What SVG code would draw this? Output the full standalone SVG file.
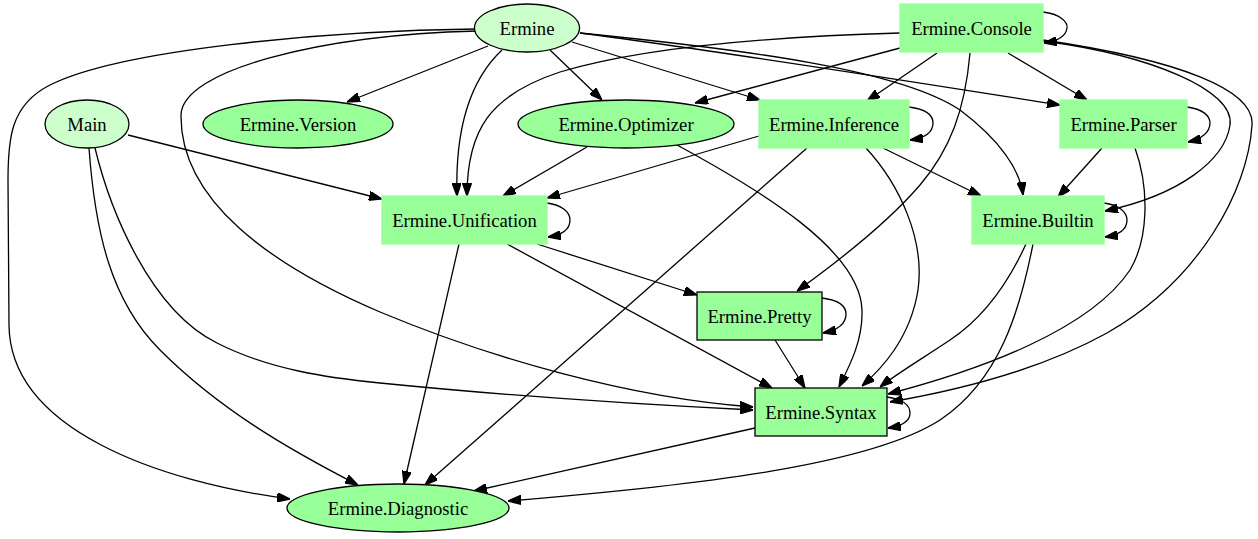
<svg xmlns="http://www.w3.org/2000/svg" width="1258" height="539" viewBox="0 0 1258 539">
<style>
.e{fill:none;stroke:#000;stroke-width:1.3;marker-end:url(#ah)}
.lt{fill:#ccffcc;stroke:#000;stroke-width:1.3}
.dk{fill:#99ff99;stroke:#000;stroke-width:1.3}
.nb{fill:#99ff99;stroke:#99ff99;stroke-width:1.3}
text{font-family:"Liberation Serif","Times New Roman",serif;font-size:18.67px;text-anchor:middle;fill:#000}
</style>
<defs>
<marker id="ah" viewBox="0 0 10 7" refX="10" refY="3.5" markerWidth="13" markerHeight="9.3" markerUnits="userSpaceOnUse" orient="auto">
<path d="M0,0 L10,3.5 L0,7 z" fill="#000" stroke="#000"/>
</marker>
</defs>
<rect width="1258" height="539" fill="#fff"/>
<g id="edges">
<path class="e" d="M476,29 C 320,31 120,50 50,85 C 10,105 8,140 8,180 L 9,325 C 10,430 160,482 290,499"/>
<path class="e" d="M477,31 C 320,35 182,70 181,115 C 180,200 270,265 380,312 C 490,358 630,398 753,407"/>
<path class="e" d="M488,46 L347,102"/>
<path class="e" d="M502,50 C 470,80 455,130 457,196"/>
<path class="e" d="M550,50 L602,100"/>
<path class="e" d="M572,42 L760,100"/>
<path class="e" d="M580,33 C 700,48 900,80 1060,105"/>
<path class="e" d="M580,33 C 750,50 900,70 960,110 C 1000,140 1020,170 1023,195"/>
<path class="e" d="M128,135 L382,199"/>
<path class="e" d="M95,148 C 110,210 150,310 217,343 C 270,370 330,378 380,383 C 500,395 650,405 753,410"/>
<path class="e" d="M89,148 C 95,230 110,300 160,350 C 220,410 290,450 358,485"/>
<path class="e" d="M1043,12 C 1060,14 1068,22 1067,28 C 1066,36 1058,41 1044,43"/>
<path class="e" d="M900,48 L695,103"/>
<path class="e" d="M900,33 C 760,37 640,48 560,72 C 490,95 467,130 467,196"/>
<path class="e" d="M937,53 L867,101"/>
<path class="e" d="M1008,53 L1087,100"/>
<path class="e" d="M970,53 C 965,110 950,150 920,185 C 890,220 840,260 797,291"/>
<path class="e" d="M1043,41 C 1150,55 1235,90 1230,125 C 1225,160 1180,195 1105,211"/>
<path class="e" d="M1043,40 C 1180,60 1255,90 1252,125 C 1248,190 1200,280 1107,333 C 1040,370 960,390 890,402"/>
<path class="e" d="M909,107 C 925,109 933,115 933,123 C 933,132 925,138 910,140"/>
<path class="e" d="M759,136 L547,198"/>
<path class="e" d="M807,148 L425,485"/>
<path class="e" d="M883,148 L981,196"/>
<path class="e" d="M866,148 C 900,185 925,240 918,290 C 910,340 880,370 862,386"/>
<path class="e" d="M587,147 L503,196"/>
<path class="e" d="M677,145 C 760,190 860,250 862,310 C 863,340 850,365 839,387"/>
<path class="e" d="M1187,107 C 1203,109 1210,116 1210,123 C 1210,132 1202,139 1188,142"/>
<path class="e" d="M1102,148 L1058,197"/>
<path class="e" d="M1135,148 C 1150,190 1148,240 1130,270 C 1090,330 980,370 888,394"/>
<path class="e" d="M547,203 C 562,205 570,212 570,220 C 570,229 562,235 548,237"/>
<path class="e" d="M459,244 L404,484"/>
<path class="e" d="M537,244 L697,295"/>
<path class="e" d="M507,244 L772,388"/>
<path class="e" d="M1104,203 C 1119,205 1127,212 1127,220 C 1127,229 1119,235 1105,237"/>
<path class="e" d="M1026,244 C 1005,290 980,320 950,340 C 920,360 895,375 880,387"/>
<path class="e" d="M1033,244 C 1020,310 1000,380 940,420 C 870,465 700,485 508,501"/>
<path class="e" d="M822,298 C 838,300 846,306 846,314 C 846,323 838,330 823,333"/>
<path class="e" d="M775,340 L805,388"/>
<path class="e" d="M887,397 C 902,399 910,405 910,413 C 910,421 902,426 888,428"/>
<path class="e" d="M755,428 L474,491"/>
</g>
<g id="Ermine"><ellipse class="lt" cx="527" cy="28" rx="52.5" ry="24"/><text x="527" y="34.5">Ermine</text></g>
<g id="Main"><ellipse class="lt" cx="87" cy="124" rx="42" ry="24"/><text x="87" y="130.5">Main</text></g>
<g id="Ermine.Version"><ellipse class="dk" cx="298" cy="124" rx="95" ry="24"/><text x="298" y="130.5">Ermine.Version</text></g>
<g id="Ermine.Optimizer"><ellipse class="dk" cx="626" cy="124" rx="108" ry="24"/><text x="626" y="130.5">Ermine.Optimizer</text></g>
<g id="Ermine.Console"><rect class="nb" x="900" y="4" width="143" height="48"/><text x="971.5" y="34.5">Ermine.Console</text></g>
<g id="Ermine.Inference"><rect class="nb" x="759" y="100" width="150" height="48"/><text x="834" y="130.5">Ermine.Inference</text></g>
<g id="Ermine.Parser"><rect class="nb" x="1060" y="100" width="127" height="48"/><text x="1123.5" y="130.5">Ermine.Parser</text></g>
<g id="Ermine.Unification"><rect class="nb" x="382" y="196" width="165" height="48"/><text x="464.5" y="226.5">Ermine.Unification</text></g>
<g id="Ermine.Builtin"><rect class="nb" x="972" y="196" width="132" height="48"/><text x="1038" y="226.5">Ermine.Builtin</text></g>
<g id="Ermine.Pretty"><rect class="dk" x="697" y="292" width="125" height="48"/><text x="759.5" y="322.5">Ermine.Pretty</text></g>
<g id="Ermine.Syntax"><rect class="dk" x="755" y="388" width="132" height="48"/><text x="821" y="418.5">Ermine.Syntax</text></g>
<g id="Ermine.Diagnostic"><ellipse class="dk" cx="398" cy="508" rx="111" ry="24"/><text x="398" y="514.5">Ermine.Diagnostic</text></g>
</svg>
